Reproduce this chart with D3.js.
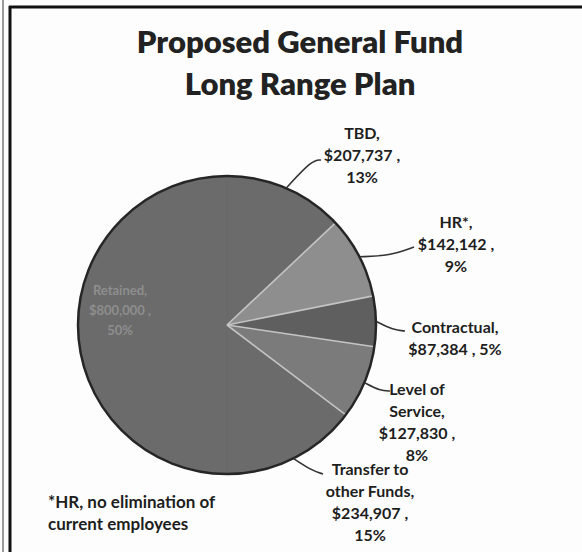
<!DOCTYPE html>
<html>
<head>
<meta charset="utf-8">
<script src="https://cdn.jsdelivr.net/npm/d3@7"></script>
<style>
  html, body { margin: 0; padding: 0; background: #fdfdfd; }
  svg { display: block; }
</style>
</head>
<body>
<svg id="chart" width="582" height="552"></svg>
<script>
// ---- data ----
const titleLines = ["Proposed General Fund", "Long Range Plan"];
const categories = ["TBD", "HR*", "Contractual", "Level of Service", "Transfer to other Funds", "Retained"];
const values = [207737, 142142, 87384, 127830, 234907, 800000];
const nameLines = [["TBD,"], ["HR*,"], ["Contractual,"], ["Level of", "Service,"], ["Transfer to", "other Funds,"], ["Retained,"]];
const footnoteLines = ["*HR, no elimination of", "current employees"];

// ---- styles / layout ----
const sliceColors = ["#6b6b6b", "#8e8e8e", "#5f5f5f", "#7b7b7b", "#6b6b6b", "#6b6b6b"];
const W = 582, H = 552;
const cx = 227, cy = 325, R = 149;
const labelFont = "Lato, 'Open Sans', sans-serif";
const lineH = 22;
const labelLayout = [
  { x: 362, y: 139, joinLast: false, elbow: [312, 160], end: [321, 160] },
  { x: 456, y: 228, joinLast: false, elbow: null, end: [414, 247] },
  { x: 455, y: 333, joinLast: true,  elbow: null, end: [405, 331] },
  { x: 417, y: 395, joinLast: false, elbow: null, end: [390, 391] },
  { x: 370, y: 475, joinLast: false, elbow: null, end: [323, 474] },
  { x: 120, y: 295, joinLast: false, inside: true }
];

const svg = d3.select("#chart");
const total = d3.sum(values);
const fmtMoney = v => "$" + d3.format(",")(v) + " ,";
const fmtPct = v => Math.round(v / total * 100) + "%";

// frame (scan border)
svg.append("line").attr("x1", 3).attr("x2", 3).attr("y1", 0).attr("y2", H)
  .attr("stroke", "#9a9a9a").attr("stroke-width", 2);
svg.append("line").attr("x1", 10).attr("x2", 10).attr("y1", 6).attr("y2", H)
  .attr("stroke", "#111").attr("stroke-width", 3);
svg.append("line").attr("x1", 9).attr("x2", W).attr("y1", 7).attr("y2", 7)
  .attr("stroke", "#111").attr("stroke-width", 3);

// title
svg.append("g").selectAll("text").data(titleLines).join("text")
  .attr("x", 300).attr("y", (d, i) => 53 + i * 42)
  .attr("text-anchor", "middle")
  .attr("font-family", labelFont).attr("font-weight", 800)
  .attr("font-size", 31).attr("fill", "#222")
  .text(d => d);

// pie
const pie = d3.pie().sort(null).value(d => d).startAngle(0).endAngle(2 * Math.PI);
const arcs = pie(values);
const arc = d3.arc().innerRadius(0).outerRadius(R);
const g = svg.append("g").attr("transform", `translate(${cx},${cy})`);
g.selectAll("path").data(arcs).join("path")
  .attr("d", arc)
  .attr("fill", (d, i) => sliceColors[i])
  .attr("stroke", (d, i) => sliceColors[i]).attr("stroke-width", 0.5);
// light separators only between differently shaded slices
arcs.forEach((d, i) => {
  const prev = sliceColors[(i + sliceColors.length - 1) % sliceColors.length];
  if (prev === sliceColors[i]) return;
  const a = d.startAngle;
  g.append("line").attr("x1", 0).attr("y1", 0)
    .attr("x2", R * Math.sin(a)).attr("y2", -R * Math.cos(a))
    .attr("stroke", "#c4c4c4").attr("stroke-width", 1.6);
});
g.append("circle").attr("r", R).attr("fill", "none").attr("stroke", "#262626").attr("stroke-width", 2.5);

// leaders
const outerPt = (d, r) => {
  const a = (d.startAngle + d.endAngle) / 2;
  return [cx + r * Math.sin(a), cy - r * Math.cos(a)];
};
arcs.forEach((d, i) => {
  const L = labelLayout[i];
  if (L.inside) return;
  const p0 = outerPt(d, R);
  const pts = L.elbow ? [p0, L.elbow, L.end]
    : [p0, [(p0[0] + L.end[0]) / 2 + 3, (p0[1] + L.end[1]) / 2 + 4], L.end];
  svg.append("path")
    .attr("d", d3.line().curve(d3.curveBasis)(pts))
    .attr("fill", "none").attr("stroke", "#333").attr("stroke-width", 1.6);
});

// labels
arcs.forEach((d, i) => {
  const L = labelLayout[i];
  let lines = nameLines[i].slice();
  if (L.joinLast) {
    lines.push(fmtMoney(values[i]) + " " + fmtPct(values[i]));
  } else {
    lines.push(fmtMoney(values[i]));
    lines.push(fmtPct(values[i]));
  }
  svg.append("g").selectAll("text").data(lines).join("text")
    .attr("x", L.x).attr("y", (t, j) => L.y + j * (L.inside ? 20 : lineH))
    .attr("text-anchor", "middle")
    .attr("font-family", labelFont).attr("font-weight", 700)
    .attr("font-size", L.inside ? 13 : 16)
    .attr("fill", L.inside ? "#8e8e8e" : "#1e1e1e")
    .text(t => t);
});

// footnote
svg.append("g").selectAll("text").data(footnoteLines).join("text")
  .attr("x", 48).attr("y", (d, i) => 508 + i * 22)
  .attr("font-family", labelFont).attr("font-weight", 700)
  .attr("font-size", 17).attr("fill", "#1e1e1e")
  .text(d => d);
</script>
</body>
</html>
